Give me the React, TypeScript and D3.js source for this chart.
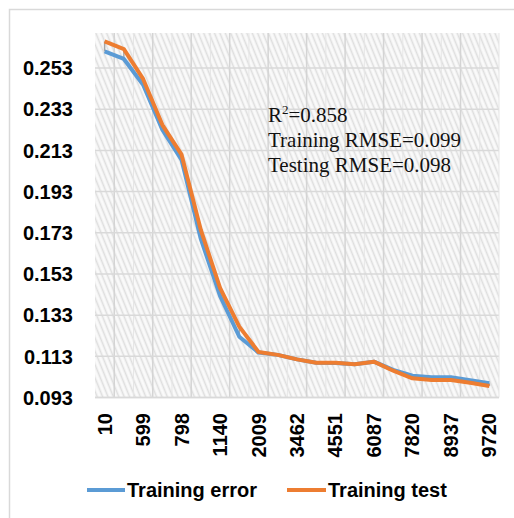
import React from "react";
import * as d3 from "d3";

// sample sizes on the x axis (only every other one is labelled)
const categories = [
  "10", "300", "599", "700", "798", "950", "1140", "1500", "2009", "2700", "3462",
  "4000", "4551", "5300", "6087", "6900", "7820", "8400", "8937", "9300", "9720",
];

const trainingError = [
  0.2611, 0.2574, 0.2449, 0.223, 0.2084, 0.170, 0.1423, 0.1225, 0.1148, 0.1137, 0.1115,
  0.1099, 0.1098, 0.1091, 0.1104, 0.1064, 0.1036, 0.1028, 0.1028, 0.1014, 0.0999,
];

const trainingTest = [
  0.2659, 0.2622, 0.2477, 0.2254, 0.2109, 0.1744, 0.1462, 0.1274, 0.1151, 0.1137, 0.1115,
  0.1099, 0.1099, 0.1091, 0.1104, 0.106, 0.1023, 0.1015, 0.1015, 0.1002, 0.0986,
];

const yTicks = [0.093, 0.113, 0.133, 0.153, 0.173, 0.193, 0.213, 0.233, 0.253];
const statLines = ["Training RMSE=0.099", "Testing RMSE=0.098"];

const W = 514;
const H = 518;
const plot = { left: 95, right: 499, top: 33, bottom: 397.5 };
const BLUE = "#5B9BD5";
const ORANGE = "#ED7D31";
const GRID = "#d9d9d9";
const SANS = "'Liberation Sans', Arial, sans-serif";
const SERIF = "'Liberation Serif', 'Times New Roman', serif";

export default function App() {
  const x = d3.scaleBand().domain(categories).range([plot.left, plot.right]).padding(0);
  const y = d3.scaleLinear().domain([0.093, 0.27]).range([plot.bottom, plot.top]);
  const cx = (i: number) => (x(categories[i]) as number) + x.bandwidth() / 2;

  const line = d3
    .line<number>()
    .x((_, i) => cx(i))
    .y((d) => y(d));

  // category boundaries, odd ones carry the major grid
  const bounds = d3.range(1, categories.length).map((i) => x(categories[i]) as number);

  return (
    <svg
      width={W}
      height={H}
      style={{ position: "absolute", left: 0, top: 0, background: "#fff" }}
    >
      <defs>
        <pattern
          id="hatch"
          patternUnits="userSpaceOnUse"
          width={5}
          height={10}
          patternTransform="rotate(-22)"
        >
          <rect width={5} height={10} fill="#fafafa" />
          <line x1={1.5} y1={0} x2={1.5} y2={10} stroke="#dedede" strokeWidth={1.6} />
        </pattern>
      </defs>

      <rect x={9.5} y={9.5} width={W + 20} height={H + 20} fill="#fff" stroke={GRID} strokeWidth={1.5} />

      <rect
        x={plot.left}
        y={plot.top}
        width={plot.right - plot.left}
        height={plot.bottom - plot.top}
        fill="url(#hatch)"
      />

      {/* gridlines */}
      {bounds.map((b, i) => (
        <line
          key={"v" + i}
          x1={b}
          x2={b}
          y1={plot.top}
          y2={plot.bottom}
          stroke={i % 2 === 0 ? "#d4d4d4" : "#e6e6e6"}
          strokeWidth={i % 2 === 0 ? 1.5 : 1}
        />
      ))}
      {yTicks.map((t) => (
        <line key={"h" + t} x1={plot.left} x2={plot.right} y1={y(t)} y2={y(t)} stroke={GRID} strokeWidth={1.5} />
      ))}
      <line x1={plot.right} x2={plot.right} y1={plot.top} y2={plot.bottom} stroke="#e6e6e6" strokeWidth={1} />
      <line x1={plot.left} x2={plot.right} y1={plot.bottom} y2={plot.bottom} stroke={GRID} strokeWidth={1.5} />

      {/* high-low lines */}
      {categories.map((c, i) => (
        <line
          key={"hl" + c}
          x1={cx(i)}
          x2={cx(i)}
          y1={y(Math.max(trainingError[i], trainingTest[i]))}
          y2={y(Math.min(trainingError[i], trainingTest[i]))}
          stroke="#a5a5a5"
          strokeWidth={1.5}
        />
      ))}

      <path d={line(trainingError) || ""} fill="none" stroke={BLUE} strokeWidth={4} strokeLinejoin="round" />
      <path d={line(trainingTest) || ""} fill="none" stroke={ORANGE} strokeWidth={4} strokeLinejoin="round" />

      {/* y axis labels */}
      {yTicks.map((t) => (
        <text
          key={"yl" + t}
          x={73}
          y={y(t)}
          dy="0.36em"
          textAnchor="end"
          fontFamily={SANS}
          fontWeight="bold"
          fontSize={20}
          fill="#000"
        >
          {d3.format(".3f")(t)}
        </text>
      ))}

      {/* x axis labels, every other category */}
      {categories.map((c, i) =>
        i % 2 === 0 ? (
          <text
            key={"xl" + c}
            transform={`translate(${cx(i) + 7},${413}) rotate(-90)`}
            textAnchor="end"
            fontFamily={SANS}
            fontWeight="bold"
            fontSize={20}
            fill="#000"
          >
            {c}
          </text>
        ) : null
      )}

      {/* stats box */}
      <text x={268} y={121.5} fontFamily={SERIF} fontSize={21} fill="#111">
        R<tspan fontSize={13} dy={-8}>2</tspan>
        <tspan dy={8}>=0.858</tspan>
      </text>
      {statLines.map((s, i) => (
        <text key={s} x={268} y={147 + i * 25} fontFamily={SERIF} fontSize={21} fill="#111">
          {s}
        </text>
      ))}

      {/* legend */}
      <line x1={87} x2={125} y1={490} y2={490} stroke={BLUE} strokeWidth={4} />
      <text x={127} y={497} fontFamily={SANS} fontWeight="bold" fontSize={20} fill="#000">
        Training error
      </text>
      <line x1={287} x2={326} y1={490} y2={490} stroke={ORANGE} strokeWidth={4} />
      <text x={328} y={497} fontFamily={SANS} fontWeight="bold" fontSize={20} fill="#000">
        Training test
      </text>
    </svg>
  );
}
